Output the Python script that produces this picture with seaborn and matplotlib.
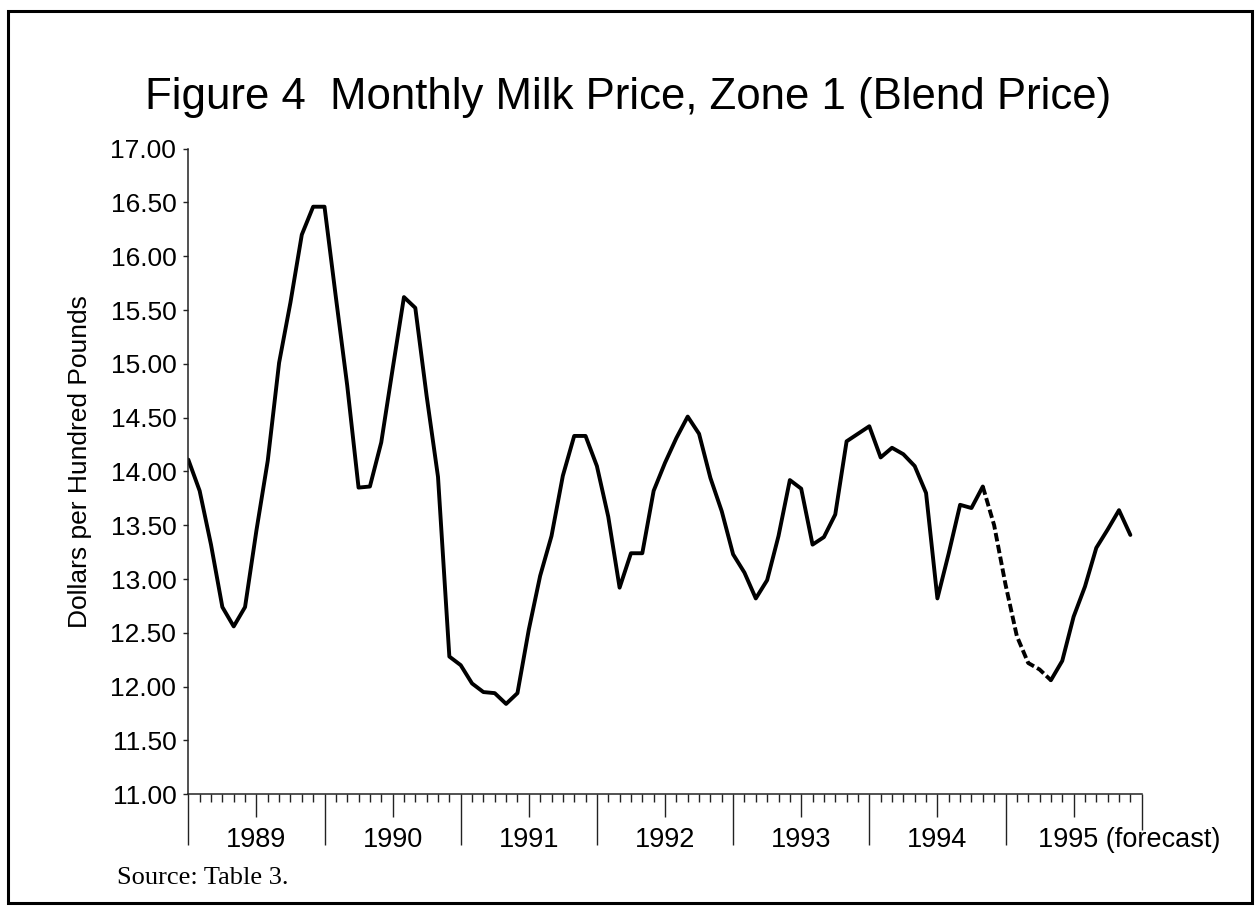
import matplotlib
matplotlib.use("Agg")
import matplotlib.pyplot as plt
import matplotlib.transforms as mtransforms
from matplotlib.patches import Rectangle
from matplotlib.ticker import FixedLocator, FormatStrFormatter, NullFormatter
import numpy as np
import pandas as pd
import seaborn as sns

# ---------------- data ----------------
years = [1989, 1990, 1991, 1992, 1993, 1994, 1995]
year_labels = ["1989", "1990", "1991", "1992", "1993", "1994", "1995 (forecast)"]
months = list(range(1, 13))

price_1989 = [14.11, 13.82, 13.32, 12.74, 12.56, 12.74, 13.45, 14.10, 15.01, 15.57, 16.20, 16.46]
price_1990 = [16.46, 15.62, 14.80, 13.85, 13.86, 14.27, 14.95, 15.62, 15.52, 14.70, 13.95, 12.28]
price_1991 = [12.20, 12.03, 11.95, 11.94, 11.84, 11.94, 12.53, 13.03, 13.40, 13.96, 14.33, 14.33]
price_1992 = [14.05, 13.58, 12.92, 13.24, 13.24, 13.82, 14.08, 14.31, 14.51, 14.35, 13.94, 13.63]
price_1993 = [13.23, 13.06, 12.82, 12.99, 13.40, 13.92, 13.84, 13.32, 13.39, 13.60, 14.28, 14.35]
price_1994 = [14.42, 14.13, 14.22, 14.16, 14.05, 13.80, 12.82, 13.24, 13.69, 13.66, 13.86, 13.50]
price_1995 = [12.95, 12.47, 12.22, 12.16, 12.06, 12.24, 12.65, 12.93, 13.29, 13.46, 13.64, 13.41]

dashed_from = (1994, 11)   # segment drawn dashed
dashed_to = (1995, 5)

y_ticks = [11.0, 11.5, 12.0, 12.5, 13.0, 13.5, 14.0, 14.5, 15.0, 15.5, 16.0, 16.5, 17.0]

title = "Figure 4  Monthly Milk Price, Zone 1 (Blend Price)"
ylabel = "Dollars per Hundred Pounds"
source = "Source: Table 3."

# ---------------- frame ----------------
all_prices = price_1989 + price_1990 + price_1991 + price_1992 + price_1993 + price_1994 + price_1995
rows = []
k = 0
for y in years:
    for m in months:
        rows.append({"year": y, "month": m, "t": y + (m - 1) / 12, "price": all_prices[k]})
        k += 1
df = pd.DataFrame(rows)
key = df["year"] * 100 + df["month"]
k_from = dashed_from[0] * 100 + dashed_from[1]
k_to = dashed_to[0] * 100 + dashed_to[1]
solid_a = df[key <= k_from]
dashed = df[(key >= k_from) & (key <= k_to)]
solid_b = df[key >= k_to]

# ---------------- figure ----------------
sns.set_theme(style="white")
plt.rcParams["font.family"] = ["Liberation Sans", "DejaVu Sans"]

W, H = 1259, 906
fig = plt.figure(figsize=(W / 100, H / 100), dpi=100)
fig.patch.set_facecolor("white")

x0, x1 = 188.3, 1141.7
yt, yb = 148.6, 794.3
ax = fig.add_axes([x0 / W, 1 - yb / H, (x1 - x0) / W, (yb - yt) / H])
ax.set_facecolor("white")

lw = 2.8
sns.lineplot(data=solid_a, x="t", y="price", color="black", lw=lw, ax=ax, estimator=None)
sns.lineplot(data=dashed, x="t", y="price", color="black", lw=lw, ax=ax, estimator=None,
             linestyle=(0, (2.2, 0.9)))
sns.lineplot(data=solid_b, x="t", y="price", color="black", lw=lw, ax=ax, estimator=None)

ax.set_xlim(years[0], years[-1] + 1)
ax.set_ylim(y_ticks[0], y_ticks[-1])
ax.set_xlabel("")
ax.set_ylabel("")

for s in ["top", "right"]:
    ax.spines[s].set_visible(False)
for s in ["left", "bottom"]:
    ax.spines[s].set_color("#222222")
    ax.spines[s].set_linewidth(1.1)

# y axis
ax.yaxis.set_major_locator(FixedLocator(y_ticks))
ax.yaxis.set_major_formatter(FormatStrFormatter("%.2f"))
ax.tick_params(axis="y", which="major", direction="out", length=3.6, width=1.0,
               color="#222222", pad=5, labelsize=19, labelcolor="black", left=True)

# x axis: mid-year (major, unlabeled), months (minor)
mid_years = [y + 0.5 for y in years]
month_ticks = [y + (m - 1) / 12 for y in years for m in months if m not in (1, 7)]
ax.xaxis.set_major_locator(FixedLocator(mid_years))
ax.xaxis.set_major_formatter(NullFormatter())
ax.xaxis.set_minor_locator(FixedLocator(month_ticks))
ax.tick_params(axis="x", which="major", direction="out", length=16.5, width=1.0,
               color="#222222", bottom=True)
ax.tick_params(axis="x", which="minor", direction="out", length=6, width=1.0,
               color="#222222", bottom=True)

# year boundaries: long ticks
sec = ax.secondary_xaxis("bottom")
sec.set_xticks(years)
sec.set_xticklabels([""] * len(years))
sec.tick_params(axis="x", direction="out", length=37, width=1.0, color="#222222")
sec.spines["bottom"].set_visible(False)

# axis end tick (shorter)
sec_end = ax.secondary_xaxis("bottom")
sec_end.set_xticks([years[-1] + 1])
sec_end.set_xticklabels([""])
sec_end.tick_params(axis="x", direction="out", length=26, width=1.0, color="#222222")
sec_end.spines["bottom"].set_visible(False)

# year labels
trans = mtransforms.blended_transform_factory(ax.transData, ax.transAxes)
label_y = -(840 - yb) / (yb - yt)
for y, lab in zip(years, year_labels):
    if "(" in lab:
        ax.text(y + 0.5 - 36 / ((x1 - x0) / 7), label_y, lab, transform=trans,
                ha="left", va="center", fontsize=19.5, color="black")
    else:
        ax.text(y + 0.5, label_y, lab, transform=trans,
                ha="center", va="center", fontsize=19.5, color="black")

# texts
fig.text(628 / W, 1 - 98 / H, title, ha="center", va="center", fontsize=31.5, color="black")
fig.text(80 / W, 1 - 462 / H, ylabel, ha="center", va="center", rotation=90,
         fontsize=19, color="black")
fig.text(117 / W, 1 - 878 / H, source, ha="left", va="center", fontsize=19,
         family=["Liberation Serif", "DejaVu Serif"], color="black")

# outer border
fig.add_artist(Rectangle((8 / W, 3 / H), (1252 - 8) / W, (903 - 11) / H,
                         transform=fig.transFigure, fill=False, lw=2.2, ec="black"))

fig.savefig("out.png", dpi=100, facecolor="white")
